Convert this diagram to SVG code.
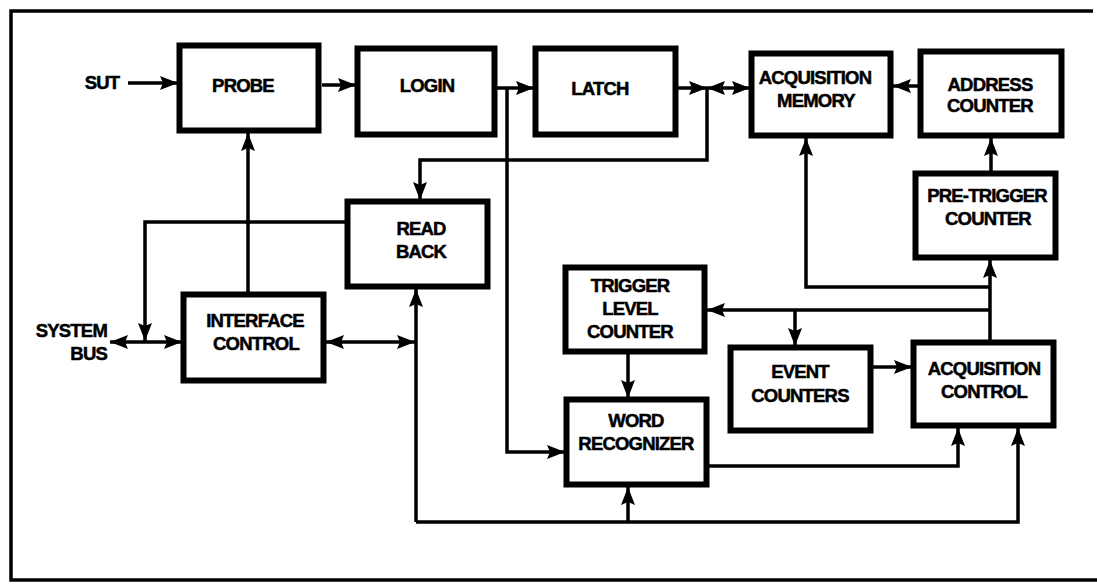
<svg xmlns="http://www.w3.org/2000/svg" width="1097" height="584" viewBox="0 0 1097 584">
<style>
.box{fill:#fff;stroke:#000;stroke-width:6}
.c{fill:none;stroke:#000;stroke-width:3.5}
.a{marker-end:url(#ah)}
.b{marker-start:url(#ah);marker-end:url(#ah)}
text{font-family:"Liberation Sans",Arial,sans-serif;font-weight:bold;font-size:18.5px;fill:#000;stroke:#000;stroke-width:0.5;text-anchor:middle;letter-spacing:-0.8px}
</style>
<defs>
<marker id="ah" viewBox="0 0 18 14" refX="18" refY="7" markerWidth="18" markerHeight="14" markerUnits="userSpaceOnUse" orient="auto-start-reverse">
<path d="M0,0 L18,7 L0,14 L3,7 Z" fill="#000"/>
</marker>
</defs>
<rect width="1097" height="584" fill="#fff"/>
<path d="M1093,11 H11 V580 H1097" fill="none" stroke="#000" stroke-width="3.5"/>
<g id="connectors">
<path class="c a" d="M128,83 H178"/>
<path class="c a" d="M322,85 H356"/>
<path class="c a" d="M497,88 H534"/>
<path class="c a" d="M507,88 V452 H565"/>
<path class="c a" d="M678,88 H707"/>
<path class="c b" d="M707,88 H750"/>
<path class="c a" d="M707,88 V160 H420 V200"/>
<path class="c a" d="M918,86 H893"/>
<path class="c a" d="M991,171 V138"/>
<path class="c a" d="M990,340 V260"/>
<path class="c a" d="M990,287 H806 V138"/>
<path class="c a" d="M990,310 H707"/>
<path class="c a" d="M795,310 V346"/>
<path class="c a" d="M873,367 H912"/>
<path class="c a" d="M628,354 V398"/>
<path class="c a" d="M709,466 H958 V428"/>
<path class="c a" d="M416,522 H1018 V428"/>
<path class="c a" d="M628,522 V487"/>
<path class="c a" d="M416,522 V289"/>
<path class="c b" d="M326,342 H415"/>
<path class="c a" d="M248,292 V133"/>
<path class="c a" d="M345,222 H145 V341"/>
<path class="c b" d="M110,342 H182"/>
</g>
<g id="sut"><text x="102" y="89">SUT</text></g>
<g id="system-bus"><text x="107" y="337" style="text-anchor:end">SYSTEM</text><text x="107" y="360" style="text-anchor:end">BUS</text></g>
<g id="probe"><rect class="box" x="179.5" y="45.5" width="139" height="85"/><text x="243" y="92">PROBE</text></g>
<g id="login"><rect class="box" x="357.5" y="48.5" width="137" height="86"/><text x="427" y="92">LOGIN</text></g>
<g id="latch"><rect class="box" x="535.5" y="48.5" width="140" height="86"/><text x="600" y="95">LATCH</text></g>
<g id="acquisition-memory"><rect class="box" x="751.5" y="53.5" width="139" height="82"/><text x="815" y="84">ACQUISITION</text><text x="816" y="107">MEMORY</text></g>
<g id="address-counter"><rect class="box" x="920.5" y="51.5" width="141" height="84"/><text x="990" y="91">ADDRESS</text><text x="990" y="112">COUNTER</text></g>
<g id="pre-trigger-counter"><rect class="box" x="915.5" y="173.5" width="140" height="84"/><text x="987" y="202">PRE-TRIGGER</text><text x="988" y="225">COUNTER</text></g>
<g id="read-back"><rect class="box" x="347.5" y="201.5" width="140" height="85"/><text x="421" y="235">READ</text><text x="421" y="258">BACK</text></g>
<g id="interface-control"><rect class="box" x="183.5" y="294.5" width="140" height="86"/><text x="255" y="327">INTERFACE</text><text x="256" y="350">CONTROL</text></g>
<g id="trigger-level-counter"><rect class="box" x="565.5" y="267.5" width="139" height="84"/><text x="630" y="292">TRIGGER</text><text x="630" y="315">LEVEL</text><text x="630" y="338">COUNTER</text></g>
<g id="word-recognizer"><rect class="box" x="566.5" y="399.5" width="140" height="85"/><text x="636" y="427">WORD</text><text x="636" y="450">RECOGNIZER</text></g>
<g id="event-counters"><rect class="box" x="730.5" y="347.5" width="140" height="83"/><text x="800" y="378">EVENT</text><text x="800" y="402">COUNTERS</text></g>
<g id="acquisition-control"><rect class="box" x="913.5" y="342.5" width="140" height="83"/><text x="984" y="375">ACQUISITION</text><text x="984" y="398">CONTROL</text></g>
</svg>
